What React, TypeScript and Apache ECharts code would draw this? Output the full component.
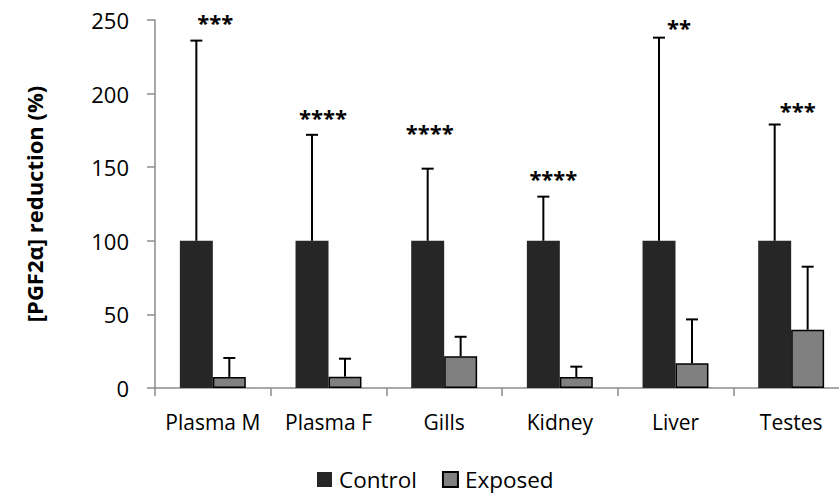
import React, { useEffect, useRef } from "react";
import * as echarts from "echarts";

const categories = ["Plasma M", "Plasma F", "Gills", "Kidney", "Liver", "Testes"];
const controlMean = [100, 100, 100, 100, 100, 100];
const controlUpper = [236, 172, 149, 130, 238, 179];
const exposedMean = [7.5, 7.7, 21.5, 7.5, 16.8, 39.6];
const exposedUpper = [20.4, 19.9, 34.8, 14.5, 46.6, 82.4];
const significance = ["***", "****", "****", "****", "**", "***"];
const yTicks = { min: 0, max: 250, interval: 50 };

// layout offsets (px) of significance marks relative to the control error-bar top
const sigDx = [19, 11, 2, 10, 20, 23];
const sigDy = [-19, -18, -37, -19, -11, -15];

const FONT = "'Open Sans', sans-serif";
const BAR_FRAC = 0.285;

export default function App() {
  const ref = useRef<HTMLDivElement>(null);
  useEffect(() => {
    document.body.style.margin = "0";
    document.body.style.overflow = "hidden";
    const chart = echarts.init(ref.current!, null, { renderer: "svg" });

    const errRender = (side: number) => (params: any, api: any) => {
      const i = api.value(0);
      const base = api.coord([i, api.value(1)]);
      const top = api.coord([i, api.value(2)]);
      const bw = api.size([1, 0])[0];
      const x = base[0] + side * (BAR_FRAC / 2) * bw;
      const st = { stroke: "#000", lineWidth: 2 };
      return {
        type: "group",
        children: [
          { type: "line", shape: { x1: x, y1: base[1], x2: x, y2: top[1] }, style: st },
          { type: "line", shape: { x1: x - 6, y1: top[1], x2: x + 6, y2: top[1] }, style: st },
        ],
      };
    };

    chart.setOption({
      animation: false,
      textStyle: { fontFamily: FONT },
      grid: { left: 155, top: 20, bottom: 108, right: 0, containLabel: false },
      legend: {
        top: 468,
        left: 317,
        padding: 0,
        itemWidth: 15,
        itemHeight: 15,
        itemGap: 25,
        icon: "rect",
        textStyle: { fontSize: 22.5, color: "#000", fontFamily: FONT, padding: [0, 0, 0, 2] },
        data: ["Control", "Exposed"],
      },
      xAxis: {
        type: "category",
        data: categories,
        axisLine: { lineStyle: { color: "#8c8c8c", width: 1.5 } },
        axisTick: { show: true, length: 8, interval: 0, alignWithLabel: false, lineStyle: { color: "#8c8c8c", width: 1.5 } },
        axisLabel: { fontSize: 21, color: "#000", margin: 23, interval: 0, fontFamily: FONT },
      },
      yAxis: {
        type: "value",
        min: yTicks.min,
        max: yTicks.max,
        interval: yTicks.interval,
        name: "[PGF2α] reduction (%)",
        nameLocation: "middle",
        nameGap: 110,
        nameTextStyle: { fontSize: 22, fontWeight: "bold", color: "#000", fontFamily: FONT },
        axisLine: { show: true, lineStyle: { color: "#8c8c8c", width: 1.5 } },
        axisTick: { show: true, length: 8, lineStyle: { color: "#8c8c8c", width: 1.5 } },
        axisLabel: { fontSize: 22, color: "#000", margin: 26, fontFamily: FONT },
        splitLine: { show: false },
      },
      series: [
        {
          name: "Control",
          type: "bar",
          data: controlMean,
          barWidth: BAR_FRAC * 100 + "%",
          barGap: "0%",
          itemStyle: { color: "#262626", borderColor: "#262626", borderWidth: 0 },
        },
        {
          name: "Exposed",
          type: "bar",
          data: exposedMean,
          barWidth: BAR_FRAC * 100 + "%",
          barGap: "0%",
          itemStyle: { color: "#808080", borderColor: "#000", borderWidth: 1.5 },
        },
        {
          type: "custom",
          renderItem: errRender(-1),
          data: categories.map((_, i) => [i, controlMean[i], controlUpper[i]]),
          encode: { x: 0, y: [1, 2] },
          z: 5,
          silent: true,
        },
        {
          type: "custom",
          renderItem: errRender(1),
          data: categories.map((_, i) => [i, exposedMean[i], exposedUpper[i]]),
          encode: { x: 0, y: [1, 2] },
          z: 5,
          silent: true,
        },
        {
          type: "custom",
          renderItem: (params: any, api: any) => {
            const i = api.value(0);
            const top = api.coord([i, api.value(1)]);
            const bw = api.size([1, 0])[0];
            const x = top[0] - (BAR_FRAC / 2) * bw + sigDx[i];
            return {
              type: "text",
              x,
              y: top[1] + sigDy[i],
              style: {
                text: significance[i],
                fontSize: 22,
                fontWeight: "bold",
                fontFamily: FONT,
                fill: "#000",
                align: "center",
                verticalAlign: "middle",
              },
            };
          },
          data: categories.map((_, i) => [i, controlUpper[i]]),
          encode: { x: 0, y: 1 },
          z: 6,
          silent: true,
        },
      ],
    });
    return () => chart.dispose();
  }, []);
  return <div ref={ref} style={{ width: 849, height: 496 }} />;
}
